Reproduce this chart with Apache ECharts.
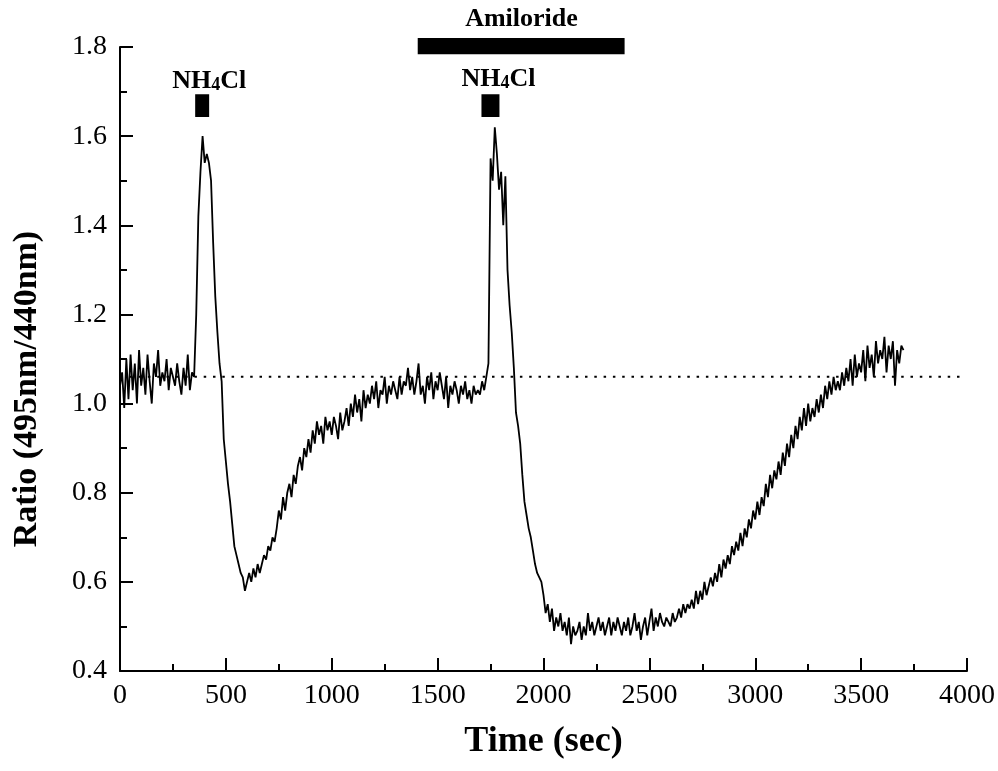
<!DOCTYPE html>
<html>
<head>
<meta charset="utf-8">
<script src="https://cdn.jsdelivr.net/npm/echarts@6/dist/echarts.min.js"></script>
<style>html,body{margin:0;padding:0;background:#fff;}#chart{width:998px;height:771px;}</style>
</head>
<body>
<div id="chart"></div>
<script>
const sampleStep = 10;
const ratio = [
  1.04, 1.07, 0.99, 1.10, 1.01, 1.11, 1.03, 1.09, 1.00, 1.12,
  1.04, 1.08, 1.02, 1.11, 1.05, 1.00, 1.09, 1.06, 1.12, 1.04,
  1.07, 1.05, 1.10, 1.03, 1.08, 1.06, 1.04, 1.09, 1.05, 1.02,
  1.08, 1.04, 1.11, 1.03, 1.07, 1.06, 1.20, 1.42, 1.52, 1.60,
  1.54, 1.56, 1.54, 1.50, 1.36, 1.24, 1.16, 1.09, 1.05, 0.92,
  0.87, 0.82, 0.78, 0.73, 0.68, 0.66, 0.64, 0.62, 0.61, 0.58,
  0.60, 0.62, 0.60, 0.63, 0.61, 0.64, 0.62, 0.64, 0.66, 0.65,
  0.68, 0.67, 0.70, 0.69, 0.72, 0.76, 0.74, 0.79, 0.76, 0.80,
  0.82, 0.79, 0.84, 0.82, 0.86, 0.88, 0.85, 0.90, 0.88, 0.92,
  0.89, 0.94, 0.91, 0.96, 0.93, 0.95, 0.91, 0.97, 0.94, 0.96,
  0.93, 0.97, 0.95, 0.92, 0.98, 0.94, 0.96, 0.99, 0.95, 1.00,
  0.97, 1.02, 0.98, 1.01, 0.96, 1.03, 0.99, 1.02, 1.00, 1.04,
  1.01, 1.05, 0.99, 1.03, 1.02, 1.06, 1.00, 1.04, 1.02, 1.05,
  1.03, 1.01, 1.06, 1.02, 1.05, 1.04, 1.08, 1.03, 1.06, 1.02,
  1.05, 1.09, 1.02, 1.04, 1.00, 1.06, 1.03, 1.07, 1.01, 1.05,
  1.03, 1.07, 1.04, 1.01, 1.06, 0.99, 1.04, 1.02, 1.05, 1.03,
  1.00, 1.04, 1.02, 1.05, 1.01, 1.03, 1.00, 1.04, 1.02, 1.03,
  1.02, 1.05, 1.03, 1.06, 1.09, 1.55, 1.50, 1.62, 1.56, 1.48,
  1.52, 1.40, 1.51, 1.30, 1.22, 1.16, 1.08, 0.98, 0.95, 0.91,
  0.84, 0.78, 0.75, 0.72, 0.70, 0.67, 0.64, 0.62, 0.61, 0.60,
  0.57, 0.53, 0.55, 0.51, 0.54, 0.49, 0.52, 0.50, 0.53, 0.49,
  0.51, 0.48, 0.52, 0.46, 0.50, 0.48, 0.49, 0.51, 0.47, 0.50,
  0.48, 0.53, 0.49, 0.51, 0.48, 0.50, 0.52, 0.49, 0.51, 0.48,
  0.50, 0.52, 0.48, 0.51, 0.49, 0.52, 0.50, 0.48, 0.51, 0.49,
  0.52, 0.48, 0.50, 0.53, 0.49, 0.51, 0.47, 0.50, 0.52, 0.48,
  0.51, 0.54, 0.49, 0.52, 0.50, 0.53, 0.51, 0.50, 0.52, 0.51,
  0.50, 0.53, 0.51, 0.52, 0.54, 0.52, 0.55, 0.53, 0.55, 0.54,
  0.56, 0.54, 0.58, 0.55, 0.58, 0.56, 0.60, 0.57, 0.59, 0.61,
  0.59, 0.62, 0.60, 0.64, 0.61, 0.65, 0.63, 0.66, 0.64, 0.68,
  0.66, 0.69, 0.67, 0.71, 0.68, 0.72, 0.70, 0.74, 0.72, 0.76,
  0.74, 0.78, 0.75, 0.79, 0.77, 0.82, 0.79, 0.84, 0.81, 0.85,
  0.83, 0.87, 0.84, 0.89, 0.86, 0.91, 0.88, 0.93, 0.90, 0.95,
  0.92, 0.97, 0.94, 0.99, 0.95, 1.00, 0.96, 0.99, 0.97, 1.01,
  0.98, 1.02, 0.99, 1.04, 1.01, 1.05, 1.02, 1.06, 1.03, 1.05,
  1.03, 1.07, 1.04, 1.08, 1.05, 1.10, 1.04, 1.11, 1.06, 1.09,
  1.07, 1.12, 1.05, 1.13, 1.08, 1.11, 1.06, 1.14, 1.09, 1.12,
  1.10, 1.15, 1.07, 1.13, 1.10, 1.14, 1.04, 1.12, 1.09, 1.13,
  1.12
];

// Reference (initial baseline) level, dotted
const baselineLevel = 1.06;
const baselineSpan = [0, 3965];

// Treatment bars: [start sec, end sec, low ratio, high ratio]
const treatmentBars = [
  [355, 421, 1.643, 1.694],    // NH4Cl pulse 1
  [1707, 1792, 1.643, 1.694],  // NH4Cl pulse 2
  [1406, 2383, 1.784, 1.820]   // Amiloride
];

// Annotation labels: [sec, ratio, kind]
const annotations = [
  [421, 1.723, 'nh4cl'],
  [1787, 1.727, 'nh4cl'],
  [1896, 1.862, 'amiloride']
];

// Axes
const xMin = 0, xMax = 4000, xStep = 500;
const yMin = 0.4, yMax = 1.8, yStep = 0.2;

const serif = "'Liberation Serif', 'Times New Roman', serif";
const chart = echarts.init(document.getElementById('chart'), null, {renderer: 'canvas'});

const traceData = ratio.map((v, i) => [i * sampleStep, v]);

const option = {
  animation: false,
  backgroundColor: '#fff',
  grid: {left: 120, right: 31, top: 47, bottom: 100, containLabel: false},
  xAxis: {
    type: 'value', min: xMin, max: xMax, interval: xStep,
    name: 'Time (sec)', nameLocation: 'middle', nameGap: 53,
    nameTextStyle: {fontFamily: serif, fontWeight: 'bold', fontSize: 36, color: '#000'},
    axisLine: {show: true, onZero: false, lineStyle: {color: '#000', width: 2}},
    axisTick: {show: true, inside: true, length: 13, lineStyle: {color: '#000', width: 2}},
    minorTick: {show: true, splitNumber: 2, length: 7, lineStyle: {color: '#000', width: 2}},
    axisLabel: {fontFamily: serif, fontSize: 28, color: '#000', margin: 11,
      formatter: v => String(v)},
    splitLine: {show: false}
  },
  yAxis: {
    type: 'value', min: yMin, max: yMax, interval: yStep,
    name: 'Ratio (495nm/440nm)', nameLocation: 'middle', nameGap: 76,
    nameTextStyle: {fontFamily: serif, fontWeight: 'bold', fontSize: 34, color: '#000',
      padding: [0, 60, 0, 0]},
    axisLine: {show: true, onZero: false, lineStyle: {color: '#000', width: 2}},
    axisTick: {show: true, inside: true, length: 13, lineStyle: {color: '#000', width: 2}},
    minorTick: {show: true, splitNumber: 2, length: 7, lineStyle: {color: '#000', width: 2}},
    axisLabel: {fontFamily: serif, fontSize: 28, color: '#000', margin: 13,
      formatter: v => v.toFixed(1)},
    splitLine: {show: false}
  },
  series: [
    {
      type: 'line', name: 'baseline', silent: true,
      data: [[baselineSpan[0], baselineLevel], [baselineSpan[1], baselineLevel]],
      symbol: 'none',
      lineStyle: {color: '#000', width: 2, type: [2.5, 6.8]},
      z: 1
    },
    {
      type: 'line', name: 'ratio', data: traceData, symbol: 'none',
      lineStyle: {color: '#000', width: 1.8}, z: 2
    },
    {
      type: 'custom', name: 'bars', clip: false, silent: true,
      data: treatmentBars,
      renderItem: function (params, api) {
        const p1 = api.coord([api.value(0), api.value(3)]);
        const p2 = api.coord([api.value(1), api.value(2)]);
        return {type: 'rect', shape: {x: p1[0], y: p1[1], width: p2[0] - p1[0], height: p2[1] - p1[1]},
          style: {fill: '#000'}};
      }
    },
    {
      type: 'custom', name: 'labels', clip: false, silent: true,
      data: annotations.map(a => [a[0], a[1]]),
      renderItem: function (params, api) {
        const p = api.coord([api.value(0), api.value(1)]);
        const kind = annotations[params.dataIndex][2];
        const text = kind === 'nh4cl' ? '{a|NH}{b|4}{a|Cl}' : '{a|Amiloride}';
        return {type: 'text', x: p[0], y: p[1],
          style: {text: text, align: 'center', verticalAlign: 'middle', fill: '#000',
            rich: {
              a: {fontFamily: serif, fontWeight: 'bold', fontSize: 26, color: '#000'},
              b: {fontFamily: serif, fontWeight: 'bold', fontSize: 18, color: '#000', padding: [8, 0, 0, 0]}
            }}};
      }
    }
  ]
};
chart.setOption(option);
</script>
</body>
</html>
